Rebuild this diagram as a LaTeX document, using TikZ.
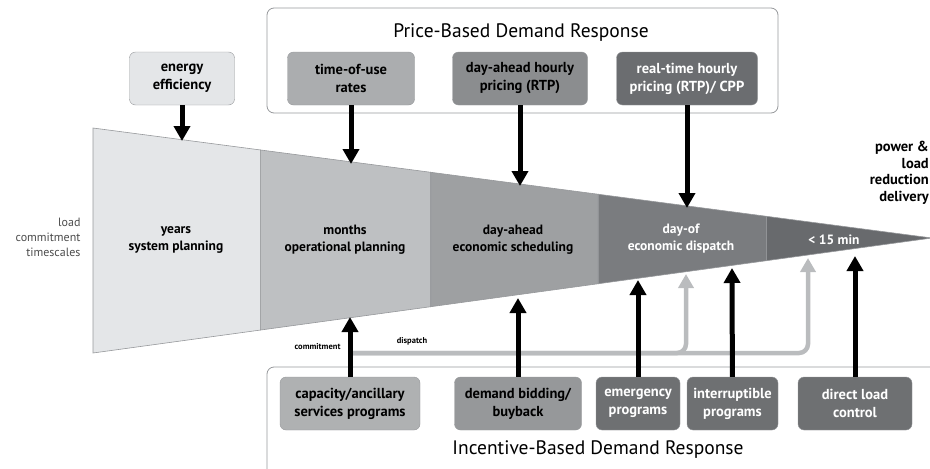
\documentclass[tikz,border=0pt]{standalone}
\usepackage{fontspec}
\setmainfont{PT Sans}
\usetikzlibrary{arrows.meta,positioning,calc}
\definecolor{yearsGray}{RGB}{228,230,232}
\definecolor{monthsGray}{RGB}{190,192,194}
\definecolor{aheadGray}{RGB}{158,160,162}
\definecolor{dayofGray}{RGB}{122,124,127}
\definecolor{minGray}{RGB}{104,106,109}
\definecolor{edgeGray}{RGB}{150,152,155}
\definecolor{dispatchGray}{RGB}{186,188,190}

\begin{document}
\begin{tikzpicture}[
    x=1pt, y=-1pt,
    progBox/.style={
        rectangle,
        rounded corners=6pt,
        draw=edgeGray,
        minimum height=53pt,
        inner sep=2pt,
        align=center,
        font=\bfseries\fontsize{14.5}{18}\selectfont
    },
    groupBox/.style={rounded corners=7pt, draw=edgeGray, line width=0.8pt},
    groupTitle/.style={font=\fontsize{19.5}{22}\selectfont},
    stageText/.style={align=center, font=\bfseries\fontsize{13.5}{17}\selectfont},
    pushArrow/.style={-{Triangle[length=15pt,width=16pt]}, line width=5pt},
    dispatchArrow/.style={-{Triangle[length=14pt,width=15pt]}, line width=4.5pt,
        draw=dispatchGray, rounded corners=9pt},
    tinyText/.style={font=\bfseries\fontsize{8.5}{9}\selectfont}
]
    \useasboundingbox (0,0) rectangle (930,469);

    % group frames
    \draw[groupBox] (267,8) rectangle (778,113);
    \node[groupTitle] (priceTitle) at (521,33) {Price-Based Demand Response};
    \draw[groupBox] (267,367) rectangle (960,500);
    \node[groupTitle] (incTitle) at (598,450) {Incentive-Based Demand Response};

    % timescale funnel
    \coordinate (tl) at (93,128);
    \coordinate (bl) at (93,353);
    \coordinate (tip) at (932,238);
    \foreach \ta/\tb/\shade in {0/0.1995/yearsGray, 0.1995/0.4026/monthsGray,
        0.4026/0.6022/aheadGray, 0.6022/0.8029/dayofGray, 0.8029/1/minGray}
        \fill[\shade, draw=edgeGray, line width=0.6pt]
            ($(tl)!\ta!(tip)$) -- ($(tl)!\tb!(tip)$) -- ($(bl)!\tb!(tip)$) -- ($(bl)!\ta!(tip)$) -- cycle;

    \node[stageText] (years) at (176,240) {years\\system planning};
    \node[stageText] (months) at (345,240) {months\\operational planning};
    \node[stageText] (ahead) at (513,240) {day-ahead\\economic scheduling};
    \node[stageText, text=white] (dayof) at (681,239) {day-of\\economic dispatch};
    \node[stageText, text=white] (fifteen) at (834,240) {< 15 min};

    \node[align=right, anchor=east, text=black!70, font=\fontsize{12}{15}\selectfont] (timescales) at (84,237) {load\\commitment\\timescales};
    \node[align=right, anchor=north east, inner sep=1pt, font=\bfseries\fontsize{14.5}{16.5}\selectfont] (delivery) at (930,140) {power \&\\load\\reduction\\delivery};

    % price-based programs
    \node[progBox, fill=yearsGray, minimum width=105pt] (eff) at (182,78.5) {energy\\efficiency};
    \node[progBox, fill=monthsGray!90!black, minimum width=127pt] (tou) at (351,78.5) {time-of-use\\rates};
    \node[progBox, fill=aheadGray!88!black, minimum width=135pt] (dahp) at (520,78.5) {day-ahead hourly\\pricing (RTP)};
    \node[progBox, fill=dayofGray!88!black, text=white, minimum width=141pt] (rtp) at (687,78.5) {real-time hourly\\pricing (RTP)/ CPP};

    % incentive-based programs
    \node[progBox, fill=monthsGray!92!black, minimum width=140pt] (cap) at (350,403.5) {capacity/ancillary\\services programs};
    \node[progBox, fill=aheadGray!95!black, minimum width=127pt] (bid) at (518,403.5) {demand bidding/\\buyback};
    \node[progBox, fill=dayofGray!90!black, text=white, minimum width=84pt] (emerg) at (638,403.5) {emergency\\programs};
    \node[progBox, fill=dayofGray!90!black, text=white, minimum width=91pt] (intr) at (732.5,403.5) {interruptible\\programs};
    \node[progBox, fill=dayofGray!90!black, text=white, minimum width=114pt] (dlc) at (855,403.5) {direct load\\control};

    % funnel entry points
    \coordinate (effIn) at (182,141);
    \coordinate (touIn) at (351,164);
    \coordinate (dahpIn) at (520,186);
    \coordinate (rtpIn) at (687,208);
    \coordinate (capIn) at (350,317);
    \coordinate (bidIn) at (518,298);
    \coordinate (emergIn) at (638,280);
    \coordinate (intrIn) at (732,268);
    \coordinate (dlcIn) at (855,256);
    \coordinate (split) at (352,353);
    \coordinate (dayofIn) at (686,274);
    \coordinate (minIn) at (808,258);

    % dispatch branch
    \draw[dispatchArrow] (split) -| (dayofIn);
    \draw[dispatchArrow] (split) -| (minIn);
    \node[tinyText, anchor=east] (commitLbl) at (344,347) {commitment};
    \node[tinyText] (dispLbl) at (412,341) {dispatch};

    \draw[pushArrow] (eff) -- (effIn);
    \draw[pushArrow] (tou) -- (touIn);
    \draw[pushArrow] (dahp) -- (dahpIn);
    \draw[pushArrow] (rtp) -- (rtpIn);
    \draw[pushArrow] (cap) -- (capIn);
    \draw[pushArrow] (bid) -- (bidIn);
    \draw[pushArrow] (emerg) -- (emergIn);
    \draw[pushArrow] (intr) -- (intrIn);
    \draw[pushArrow] (dlc) -- (dlcIn);
\end{tikzpicture}
\end{document}
